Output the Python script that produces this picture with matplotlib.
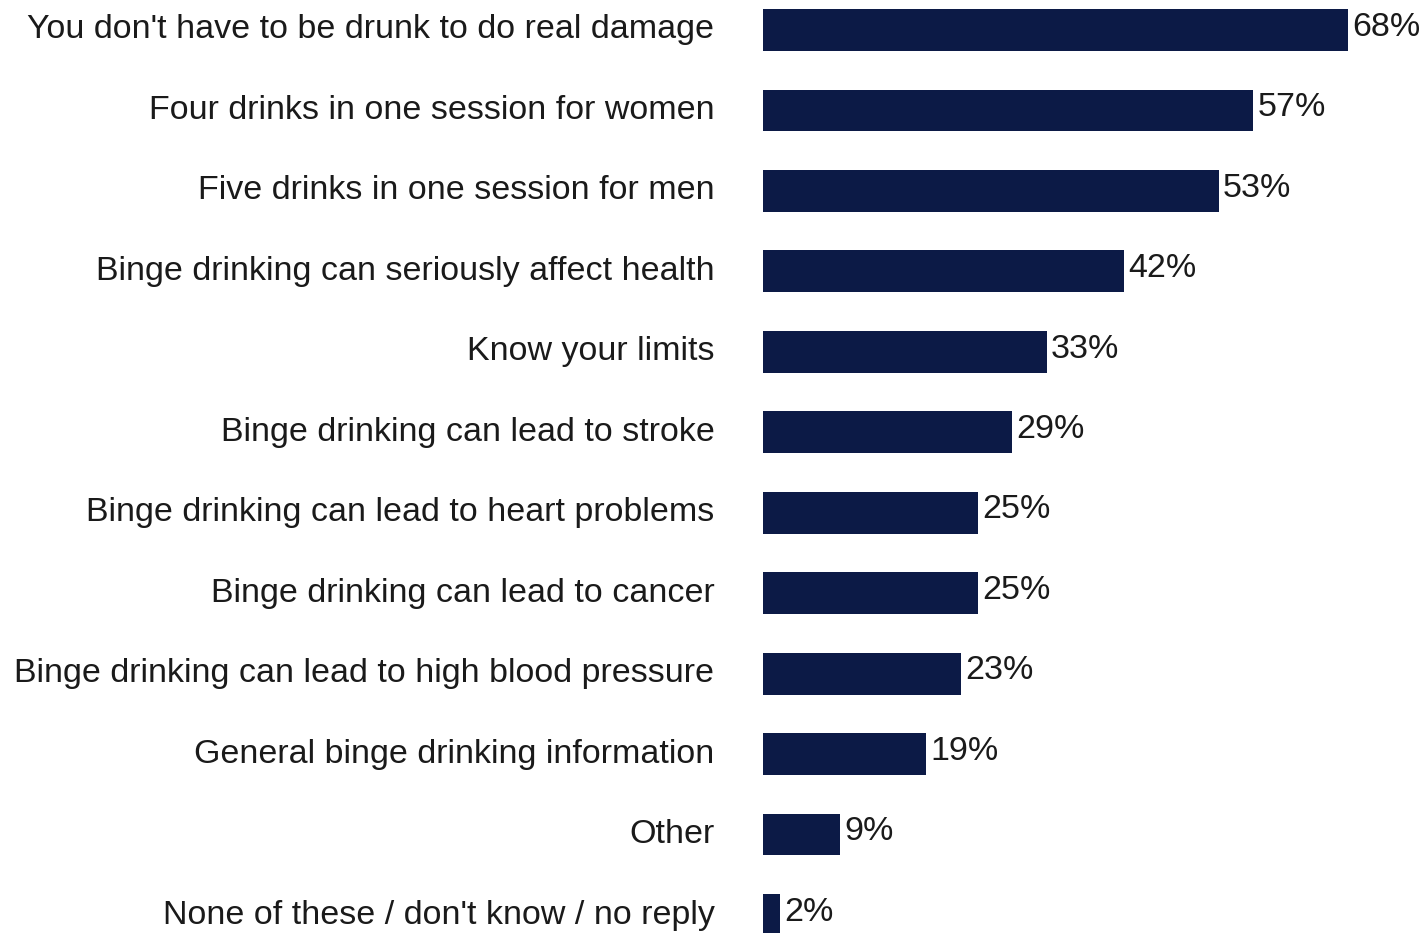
import matplotlib.pyplot as plt

# Survey answers, top to bottom
labels = [
    "You don't have to be drunk to do real damage",
    "Four drinks in one session for women",
    "Five drinks in one session for men",
    "Binge drinking can seriously affect health",
    "Know your limits",
    "Binge drinking can lead to stroke",
    "Binge drinking can lead to heart problems",
    "Binge drinking can lead to cancer",
    "Binge drinking can lead to high blood pressure",
    "General binge drinking information",
    "Other",
    "None of these / don't know / no reply",
]
values = [68, 57, 53, 42, 33, 29, 25, 25, 23, 19, 9, 2]

plt.rcParams['font.family'] = ['Liberation Sans', 'DejaVu Sans']

W, H = 1423, 933
fig = plt.figure(figsize=(W / 100, H / 100), dpi=100)
left_px = 763
ax = fig.add_axes([left_px / W, 0, 1 - left_px / W, 1])

bar_color = '#0c1a46'
text_color = '#1a1a1a'
fs = 24.5

pos = list(range(len(labels)))
ax.barh(pos, values, height=0.52, color=bar_color)

for y, v in zip(pos, values):
    ax.annotate(f"{v}%", (v, y), xytext=(3, 2), textcoords='offset points',
                va='center', ha='left', fontsize=fs, color=text_color)

ax.set_yticks(pos)
ax.set_yticklabels(labels, fontsize=fs, color=text_color, va='center')
for t in ax.get_yticklabels():
    t.set_y(t.get_position()[1])
ax.tick_params(axis='y', length=0, pad=35)
ax.set_xticks([])

# px scale: ~8.6 px per percent, ~80.5 px per row
ax.set_xlim(0, (W - left_px) / 8.6)
ax.set_ylim(11 + 18 / 80.5, -30 / 80.5)

for s in ax.spines.values():
    s.set_visible(False)

fig.savefig('out.png', dpi=100)
